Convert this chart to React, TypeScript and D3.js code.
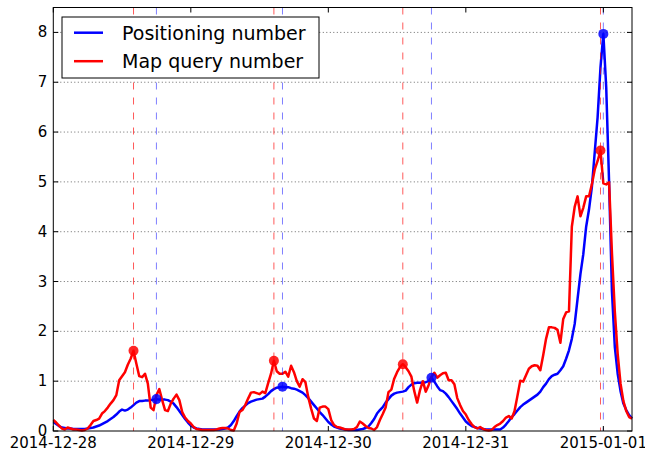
import React from "react";
import * as d3 from "d3";

// ---- data (30-minute samples starting 2014-12-28 00:00) ----
const START = "2014-12-28T00:00:00Z";
const STEP_MINUTES = 30;

const positioning = [
  // 2014-12-28
  0.18, 0.14, 0.10, 0.07, 0.06, 0.05, 0.05, 0.04, 0.04, 0.04, 0.04, 0.04,
  0.05, 0.06, 0.07, 0.09, 0.11, 0.14, 0.17, 0.20, 0.24, 0.28, 0.33, 0.39,
  0.43, 0.41, 0.43, 0.47, 0.52, 0.57, 0.60, 0.60, 0.61, 0.61, 0.62, 0.63,
  0.64, 0.63, 0.63, 0.63, 0.62, 0.59, 0.55, 0.48, 0.40, 0.32, 0.24, 0.17,
  // 2014-12-29
  0.11, 0.07, 0.05, 0.04, 0.03, 0.03, 0.03, 0.03, 0.03, 0.03, 0.03, 0.04,
  0.05, 0.07, 0.12, 0.20, 0.30, 0.39, 0.46, 0.51, 0.56, 0.59, 0.61, 0.63,
  0.64, 0.65, 0.69, 0.74, 0.80, 0.84, 0.87, 0.88, 0.89, 0.88, 0.88, 0.86,
  0.85, 0.83, 0.80, 0.77, 0.72, 0.66, 0.59, 0.52, 0.45, 0.38, 0.32, 0.25,
  // 2014-12-30
  0.18, 0.13, 0.09, 0.07, 0.05, 0.04, 0.03, 0.02, 0.02, 0.02, 0.02, 0.03,
  0.04, 0.06, 0.09, 0.16, 0.24, 0.35, 0.42, 0.48, 0.57, 0.64, 0.71, 0.75,
  0.77, 0.78, 0.79, 0.81, 0.88, 0.93, 0.96, 0.97, 0.97, 0.97, 0.98, 1.00,
  1.07, 0.99, 0.90, 0.82, 0.80, 0.75, 0.68, 0.60, 0.52, 0.44, 0.35, 0.27,
  // 2014-12-31
  0.19, 0.14, 0.10, 0.08, 0.06, 0.05, 0.04, 0.03, 0.03, 0.03, 0.03, 0.03,
  0.03, 0.07, 0.13, 0.20, 0.28, 0.34, 0.41, 0.48, 0.53, 0.57, 0.61, 0.65,
  0.69, 0.73, 0.79, 0.88, 0.95, 1.04, 1.10, 1.13, 1.15, 1.22, 1.30, 1.45,
  1.62, 1.85, 2.15, 2.65, 3.15, 3.55, 4.10, 4.45, 4.90, 5.60, 6.30, 7.30,
  // 2015-01-01
  7.97, 6.90, 5.00, 2.80, 1.69, 1.15, 0.80, 0.55, 0.42, 0.32, 0.25,
];

const mapQuery = [
  // 2014-12-28
  0.22, 0.17, 0.11, 0.05, 0.03, 0.07, 0.05, 0.03, 0.03, 0.02, 0.01, 0.02,
  0.05, 0.12, 0.20, 0.22, 0.25, 0.35, 0.40, 0.47, 0.55, 0.62, 0.72, 1.02,
  1.10, 1.18, 1.33, 1.45, 1.61, 1.35, 1.10, 1.08, 1.15, 0.95, 0.47, 0.42,
  0.72, 0.84, 0.62, 0.42, 0.40, 0.55, 0.65, 0.73, 0.62, 0.38, 0.27, 0.20,
  // 2014-12-29
  0.15, 0.08, 0.04, 0.03, 0.02, 0.02, 0.02, 0.02, 0.02, 0.03, 0.05, 0.06,
  0.06, 0.05, 0.02, 0.01, 0.15, 0.38, 0.42, 0.52, 0.65, 0.77, 0.78, 0.76,
  0.74, 0.79, 0.76, 0.96, 1.15, 1.41, 1.20, 1.15, 1.15, 1.19, 1.09, 1.31,
  1.18, 1.00, 0.89, 1.04, 0.98, 0.68, 0.45, 0.25, 0.20, 0.47, 0.49, 0.49,
  // 2014-12-30
  0.44, 0.22, 0.12, 0.08, 0.07, 0.05, 0.03, 0.03, 0.03, 0.04, 0.08, 0.19,
  0.15, 0.10, 0.06, 0.05, 0.02, 0.08, 0.22, 0.34, 0.47, 0.78, 0.83, 1.05,
  1.18, 1.28, 1.34, 1.28, 1.20, 1.09, 0.80, 0.57, 0.82, 1.00, 0.79, 0.92,
  1.09, 1.17, 1.07, 1.12, 1.16, 1.17, 1.02, 1.02, 0.94, 0.66, 0.52, 0.40,
  // 2014-12-31
  0.33, 0.22, 0.14, 0.08, 0.05, 0.08, 0.04, 0.02, 0.01, 0.02, 0.08, 0.12,
  0.15, 0.20, 0.27, 0.30, 0.25, 0.40, 0.70, 1.01, 0.99, 1.12, 1.25, 1.30,
  1.32, 1.31, 1.22, 1.52, 1.85, 2.08, 2.08, 2.07, 2.03, 1.77, 2.25, 2.38,
  2.40, 4.10, 4.50, 4.71, 4.31, 4.48, 4.71, 4.71, 4.95, 5.25, 5.42, 5.63,
  // 2015-01-01
  4.97, 4.95, 4.99, 3.57, 2.40, 1.55, 0.95, 0.60, 0.40, 0.28, 0.25,
];

const positioningPeaks = [
  "2014-12-28T18:00:00Z",
  "2014-12-29T16:00:00Z",
  "2014-12-30T18:00:00Z",
  "2015-01-01T00:00:00Z",
];
const mapQueryPeaks = [
  "2014-12-28T14:00:00Z",
  "2014-12-29T14:30:00Z",
  "2014-12-30T13:00:00Z",
  "2014-12-31T23:30:00Z",
];

const xTickLabels = ["2014-12-28", "2014-12-29", "2014-12-30", "2014-12-31", "2015-01-01"];
const yTicks = [0, 1, 2, 3, 4, 5, 6, 7, 8];
const yMax = 8.5;
const seriesNames = ["Positioning number", "Map query number"];

export default function App() {
  const W = 645;
  const H = 454;
  const left = 53.3;
  const right = 632;
  const top = 7.5;
  const bottom = 431;
  const font = "DejaVu Sans, Verdana, sans-serif";

  const t0 = new Date(START).getTime();
  const times = positioning.map((_, i) => new Date(t0 + i * STEP_MINUTES * 60000));
  const x = d3.scaleUtc().domain([times[0], times[times.length - 1]]).range([left, right]);
  const y = d3.scaleLinear().domain([0, yMax]).range([bottom, top]);

  const line = d3
    .line<number>()
    .x((_, i) => x(times[i]))
    .y((d) => y(d));

  const idxOf = (s: string) =>
    Math.round((new Date(s).getTime() - t0) / (STEP_MINUTES * 60000));

  const xTicks = xTickLabels.map((l) => ({ label: l, date: new Date(l + "T00:00:00Z") }));
  const blue = "#0000ff";
  const red = "#ff0000";

  return (
    <svg
      width={W}
      height={H}
      style={{ position: "absolute", left: 0, top: 0, background: "#fff" }}
      fontFamily={font}
    >
      <rect x={0} y={0} width={W} height={H} fill="#fff" />
      {/* grid */}
      {yTicks.filter((t) => t > 0).map((t) => (
        <line
          key={"g" + t}
          x1={left}
          x2={right}
          y1={y(t)}
          y2={y(t)}
          stroke="#444"
          strokeWidth={0.8}
          strokeDasharray="1,2.5"
        />
      ))}
      {/* series */}
      <path d={line(positioning) || ""} fill="none" stroke={blue} strokeWidth={2.5} strokeLinejoin="round" />
      <path d={line(mapQuery) || ""} fill="none" stroke={red} strokeWidth={2.5} strokeLinejoin="round" />
      {/* peak lines */}
      {mapQueryPeaks.map((p) => (
        <line
          key={"rv" + p}
          x1={x(new Date(p))}
          x2={x(new Date(p))}
          y1={top}
          y2={bottom}
          stroke={red}
          strokeOpacity={0.65}
          strokeWidth={1}
          strokeDasharray="7,8"
        />
      ))}
      {positioningPeaks.map((p) => (
        <line
          key={"bv" + p}
          x1={x(new Date(p))}
          x2={x(new Date(p))}
          y1={top}
          y2={bottom}
          stroke={blue}
          strokeOpacity={0.5}
          strokeWidth={1}
          strokeDasharray="7,8"
        />
      ))}
      {/* peak markers */}
      {mapQueryPeaks.map((p) => (
        <circle key={"rm" + p} cx={x(new Date(p))} cy={y(mapQuery[idxOf(p)])} r={5} fill={red} fillOpacity={0.85} />
      ))}
      {positioningPeaks.map((p) => (
        <circle key={"bm" + p} cx={x(new Date(p))} cy={y(positioning[idxOf(p)])} r={5} fill={blue} fillOpacity={0.85} />
      ))}
      {/* frame */}
      <rect x={left} y={top} width={right - left} height={bottom - top} fill="none" stroke="#000" strokeWidth={1} />
      {/* y ticks */}
      {yTicks.map((t) => (
        <g key={"yt" + t}>
          <line x1={left} x2={left + 5} y1={y(t)} y2={y(t)} stroke="#000" />
          <line x1={right - 5} x2={right} y1={y(t)} y2={y(t)} stroke="#000" />
          <text x={left - 6} y={y(t)} textAnchor="end" dominantBaseline="central" fontSize={15} fill="#000">
            {t}
          </text>
        </g>
      ))}
      {/* x ticks */}
      {xTicks.map((t) => (
        <g key={"xt" + t.label}>
          <line x1={x(t.date)} x2={x(t.date)} y1={bottom} y2={bottom - 5} stroke="#000" />
          <line x1={x(t.date)} x2={x(t.date)} y1={top} y2={top + 5} stroke="#000" />
          <text x={x(t.date)} y={448} textAnchor="middle" fontSize={15} fill="#000">
            {t.label}
          </text>
        </g>
      ))}
      {/* legend */}
      <rect x={62} y={17} width={257} height={61} fill="#fff" stroke="#000" strokeWidth={1} />
      {seriesNames.map((n, i) => (
        <g key={n}>
          <line x1={74} x2={103} y1={32.7 + i * 28.5} y2={32.7 + i * 28.5} stroke={i === 0 ? blue : red} strokeWidth={2.5} />
          <text x={122} y={32.7 + i * 28.5} dominantBaseline="central" fontSize={19} fill="#000">
            {n}
          </text>
        </g>
      ))}
    </svg>
  );
}
